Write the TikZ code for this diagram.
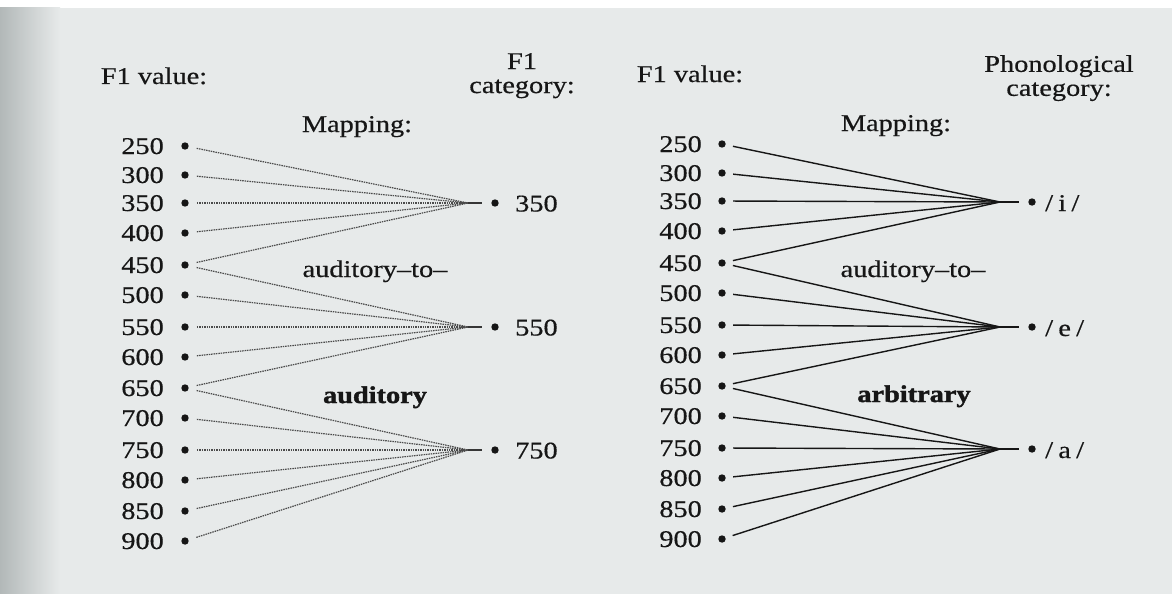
\documentclass[tikz,border=0pt]{standalone}
\usepackage{fontspec}
\setmainfont[FakeStretch=1.18,FakeBold=0.5,Ligatures=TeX,BoldFeatures={FakeBold=1.6}]{Liberation Serif}
\definecolor{paper}{RGB}{231,234,234}
\definecolor{edge}{RGB}{178,184,184}
\definecolor{ink}{RGB}{22,22,22}
\definecolor{dotline}{RGB}{75,75,75}
\begin{document}
\begin{tikzpicture}[x=1pt,y=-1pt,
  every node/.style={inner sep=0pt, text=ink},
  txt/.style={font=\fontsize{24}{24}\selectfont},
  boldtxt/.style={font=\fontsize{24}{24}\selectfont\bfseries},
  fdot/.style={circle, fill=ink, minimum size=7.4pt, inner sep=0pt},
  audline/.style={draw=dotline, line width=1.2pt, dash pattern=on 1.5pt off 0.9pt, shorten <=8pt},
  arbline/.style={draw=ink, line width=1.4pt, shorten <=7.3pt},
  stub/.style={line width=1.4pt, shorten >=9.5pt}
]
\useasboundingbox (0,0) rectangle (1172,594);
% paper
\fill[paper] (0,0) rectangle (1172,594);
\fill[white] (0,0) rectangle (1172,8);
\shade[left color=edge, right color=paper] (0,8) rectangle (60,594);

% headers
\node[txt, anchor=base] (lval) at (154,84) {F1 value:};
\node[txt, align=center, anchor=north] (lcat) at (522,53) {F1\\category:};
\node[txt, anchor=base] (lmap) at (357,132) {Mapping:};
\node[txt, anchor=base] (rval) at (690,82) {F1 value:};
\node[txt, align=center, anchor=north] (rcat) at (1059,55) {Phonological\\category:};
\node[txt, anchor=base] (rmap) at (896,131) {Mapping:};

% mapping kinds
\node[txt, anchor=base] (laud) at (375,277) {auditory–to–};
\node[boldtxt, anchor=base] (laud2) at (375,403) {auditory};
\node[txt, anchor=base] (raud) at (913,277) {auditory–to–};
\node[boldtxt, anchor=base] (rarb) at (914,402) {arbitrary};

% F1 values, left and right
\foreach \v/\y [count=\i from 0] in {250/146,300/175,350/203,400/233,450/265,500/295,550/327,600/357,650/388,700/418,750/450,800/480,850/511,900/541} {
  \node[fdot] (ls\i) at (185,\y) {};
  \node[txt, anchor=base east] (lnum\i) at (164,\y+8) {\v};
  \node[fdot] (rs\i) at (722,\y-2) {};
  \node[txt, anchor=base east] (rnum\i) at (702,\y+6) {\v};
}

% categories
\node[fdot] (lc1) at (495,203) {};
\node[fdot] (lc2) at (495,327) {};
\node[fdot] (lc3) at (495,450) {};
\node[txt, anchor=base west] (lct1) at (515,211.5) {350};
\node[txt, anchor=base west] (lct2) at (515,335.5) {550};
\node[txt, anchor=base west] (lct3) at (515,458.5) {750};
\coordinate (lk1) at (468,203);
\coordinate (lk2) at (468,327);
\coordinate (lk3) at (468,450);

\node[fdot] (rc1) at (1032,202) {};
\node[fdot] (rc2) at (1032,327) {};
\node[fdot] (rc3) at (1032,449) {};
\node[txt, anchor=base west] (rct1) at (1045,211) {/\hspace{0.22em}i\hspace{0.22em}/};
\node[txt, anchor=base west] (rct2) at (1045,336) {/\hspace{0.22em}e\hspace{0.22em}/};
\node[txt, anchor=base west] (rct3) at (1045,458) {/\hspace{0.22em}a\hspace{0.22em}/};
\coordinate (rk1) at (1000,202);
\coordinate (rk2) at (1000,327);
\coordinate (rk3) at (1000,449);

% auditory-to-auditory mapping (dotted)
\foreach \s in {0,...,4} \draw[audline] (ls\s) -- (lk1);
\foreach \s in {4,...,8} \draw[audline] (ls\s) -- (lk2);
\foreach \s in {8,...,13} \draw[audline] (ls\s) -- (lk3);
\foreach \k in {1,2,3} \draw[stub, draw=dotline!60!ink] (lk\k) -- (lc\k);

% auditory-to-arbitrary mapping (solid)
\foreach \s in {0,...,4} \draw[arbline] (rs\s) -- (rk1);
\foreach \s in {4,...,8} \draw[arbline] (rs\s) -- (rk2);
\foreach \s in {8,...,13} \draw[arbline] (rs\s) -- (rk3);
\foreach \k in {1,2,3} \draw[stub, draw=ink] (rk\k) -- (rc\k);
\end{tikzpicture}
\end{document}
